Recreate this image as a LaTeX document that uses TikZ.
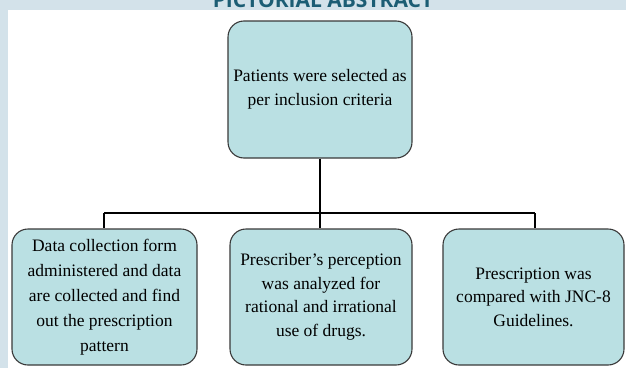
\documentclass[tikz,border=0pt]{standalone}
\usepackage{fontspec}
\setmainfont{Liberation Serif}
\newfontfamily\boxfont{Liberation Serif}
\newfontfamily\titlefont{Open Sans}
\definecolor{bandblue}{HTML}{D3E2EA}
\definecolor{boxfill}{HTML}{BAE0E3}
\definecolor{titleteal}{HTML}{1C5D74}
\definecolor{boxline}{HTML}{3A3A3A}
\begin{document}
\begin{tikzpicture}[x=1pt,y=1pt,
  flowbox/.style={draw=boxline,line width=1.1pt,fill=boxfill,rounded corners=16pt,
    align=center,inner sep=0pt,font=\boxfont\fontsize{17.5}{23.5}\selectfont},
  link/.style={draw=black,line width=2pt}]
\useasboundingbox (0,0) rectangle (626,368);
\clip (0,0) rectangle (626,368);
\fill[bandblue] (0,0) rectangle (626,368);
\fill[white] (8,0) rectangle (626,358);
\node[anchor=base,text=titleteal,font=\titlefont\bfseries\fontsize{21}{24}\selectfont] (title) at (323,361) {PICTORIAL ABSTRACT};
% boxes
\node[flowbox,minimum width=184pt,minimum height=137pt] (top) at (320,278.5) {Patients were selected as\\per inclusion criteria};
\node[flowbox,minimum width=185pt,minimum height=136pt,font=\boxfont\fontsize{17.5}{25}\selectfont] (left) at (104.5,71) {Data collection form\\administered and data\\are collected and find\\out the prescription\\pattern};
\node[flowbox,minimum width=182pt,minimum height=136pt] (mid) at (321,71) {Prescriber’s perception\\was analyzed for\\rational and irrational\\use of drugs.};
\node[flowbox,minimum width=181pt,minimum height=136pt] (right) at (533.5,71) {Prescription was\\compared with JNC-8\\Guidelines.};
% connectors
\coordinate (hub) at (320,155);
\coordinate (hl) at (104,155);
\coordinate (hr) at (535,155);
\draw[link] (top.south) -- (hub);
\draw[link] (hl) -- (hr);
\draw[link] (hl) -- (hl |- left.north);
\draw[link] (hub) -- (hub |- mid.north);
\draw[link] (hr) -- (hr |- right.north);
\end{tikzpicture}
\end{document}
